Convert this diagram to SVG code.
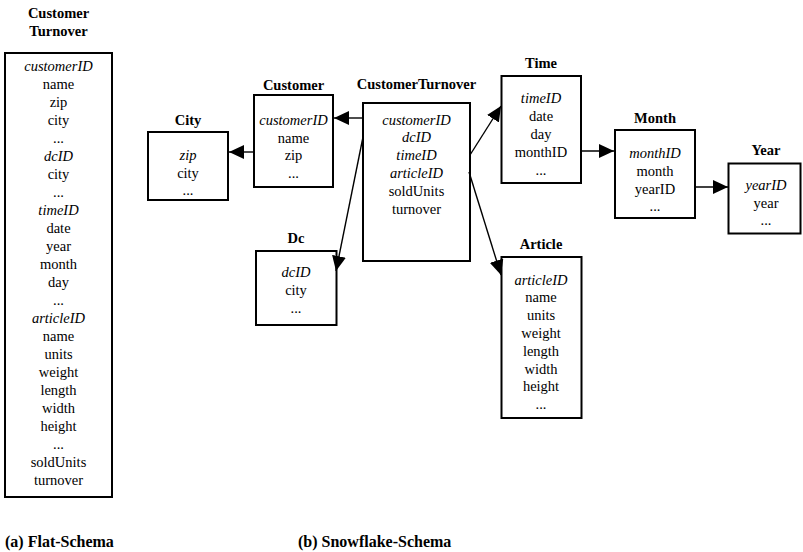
<svg xmlns="http://www.w3.org/2000/svg" width="803" height="552" viewBox="0 0 803 552" font-family="Liberation Serif, DejaVu Serif, serif">
  <style>
    .box { fill: #fff; stroke: #000; stroke-width: 2; }
    .t { font-size: 14.5px; fill: #000; text-anchor: middle; }
    .i { font-style: italic; }
    .h { font-weight: bold; }
    .cap { font-size: 16px; font-weight: bold; fill: #000; }
    .edge { stroke: #000; stroke-width: 1.4; fill: none; marker-end: url(#head); }
  </style>
  <defs>
    <marker id="head" markerUnits="userSpaceOnUse" markerWidth="15" markerHeight="14" refX="15" refY="7" orient="auto">
      <path d="M0,0 L15,7 L0,14 z" fill="#000"/>
    </marker>
  </defs>
  <rect width="803" height="552" fill="#fff"/>

  <!-- flat schema -->
  <g id="flat">
    <text class="t h" x="58.5" y="18">Customer</text>
    <text class="t h" x="58.5" y="36">Turnover</text>
    <rect class="box" x="5" y="53" width="107" height="444"/>
    <text class="t i" x="58.5" y="71">customerID</text>
    <text class="t" x="58.5" y="89">name</text>
    <text class="t" x="58.5" y="107">zip</text>
    <text class="t" x="58.5" y="125">city</text>
    <text class="t" x="58.5" y="143">...</text>
    <text class="t i" x="58.5" y="161">dcID</text>
    <text class="t" x="58.5" y="179">city</text>
    <text class="t" x="58.5" y="197">...</text>
    <text class="t i" x="58.5" y="215">timeID</text>
    <text class="t" x="58.5" y="233">date</text>
    <text class="t" x="58.5" y="251">year</text>
    <text class="t" x="58.5" y="269">month</text>
    <text class="t" x="58.5" y="287">day</text>
    <text class="t" x="58.5" y="305">...</text>
    <text class="t i" x="58.5" y="323">articleID</text>
    <text class="t" x="58.5" y="341">name</text>
    <text class="t" x="58.5" y="359">units</text>
    <text class="t" x="58.5" y="377">weight</text>
    <text class="t" x="58.5" y="395">length</text>
    <text class="t" x="58.5" y="413">width</text>
    <text class="t" x="58.5" y="431">height</text>
    <text class="t" x="58.5" y="449">...</text>
    <text class="t" x="58.5" y="467">soldUnits</text>
    <text class="t" x="58.5" y="485">turnover</text>
  </g>

  <!-- snowflake schema -->
  <g id="city">
    <text class="t h" x="188" y="125">City</text>
    <rect class="box" x="148" y="132" width="80" height="68"/>
    <text class="t i" x="188" y="160">zip</text>
    <text class="t" x="188" y="177.5">city</text>
    <text class="t" x="188" y="195">...</text>
  </g>

  <g id="customer">
    <text class="t h" x="293.5" y="90">Customer</text>
    <rect class="box" x="254" y="95" width="79" height="92"/>
    <text class="t i" x="293.5" y="125">customerID</text>
    <text class="t" x="293.5" y="142.5">name</text>
    <text class="t" x="293.5" y="160">zip</text>
    <text class="t" x="293.5" y="177.5">...</text>
  </g>

  <g id="customerTurnover">
    <text class="t h" x="416.5" y="88.5">CustomerTurnover</text>
    <rect class="box" x="363" y="103" width="107" height="158"/>
    <text class="t i" x="416.5" y="124.5">customerID</text>
    <text class="t i" x="416.5" y="142.3">dcID</text>
    <text class="t i" x="416.5" y="160.1">timeID</text>
    <text class="t i" x="416.5" y="177.9">articleID</text>
    <text class="t" x="416.5" y="195.7">soldUnits</text>
    <text class="t" x="416.5" y="213.5">turnover</text>
  </g>

  <g id="time">
    <text class="t h" x="541" y="68">Time</text>
    <rect class="box" x="501.5" y="76" width="79.5" height="107"/>
    <text class="t i" x="541" y="103">timeID</text>
    <text class="t" x="541" y="121">date</text>
    <text class="t" x="541" y="139">day</text>
    <text class="t" x="541" y="157">monthID</text>
    <text class="t" x="541" y="175">...</text>
  </g>

  <g id="month">
    <text class="t h" x="655" y="122.5">Month</text>
    <rect class="box" x="615" y="130" width="80" height="88"/>
    <text class="t i" x="655" y="158">monthID</text>
    <text class="t" x="655" y="175.8">month</text>
    <text class="t" x="655" y="193.6">yearID</text>
    <text class="t" x="655" y="211.4">...</text>
  </g>

  <g id="year">
    <text class="t h" x="766" y="154.5">Year</text>
    <rect class="box" x="728.5" y="163.5" width="72" height="70"/>
    <text class="t i" x="766" y="189.5">yearID</text>
    <text class="t" x="766" y="207.5">year</text>
    <text class="t" x="766" y="225">...</text>
  </g>

  <g id="dc">
    <text class="t h" x="296" y="242.5">Dc</text>
    <rect class="box" x="256" y="251" width="80.5" height="74"/>
    <text class="t i" x="296" y="277">dcID</text>
    <text class="t" x="296" y="295">city</text>
    <text class="t" x="296" y="312.5">...</text>
  </g>

  <g id="article">
    <text class="t h" x="541" y="248.5">Article</text>
    <rect class="box" x="501.5" y="257" width="80" height="161"/>
    <text class="t i" x="541" y="284.5">articleID</text>
    <text class="t" x="541" y="302.3">name</text>
    <text class="t" x="541" y="320.1">units</text>
    <text class="t" x="541" y="337.9">weight</text>
    <text class="t" x="541" y="355.7">length</text>
    <text class="t" x="541" y="373.5">width</text>
    <text class="t" x="541" y="391.3">height</text>
    <text class="t" x="541" y="409">...</text>
  </g>

  <!-- foreign key references -->
  <g id="connectors">
    <line class="edge" x1="363" y1="118" x2="334" y2="118"/>
    <line class="edge" x1="254" y1="152" x2="229" y2="152"/>
    <line class="edge" x1="363" y1="137" x2="336" y2="271"/>
    <line class="edge" x1="470" y1="155" x2="501" y2="106"/>
    <line class="edge" x1="469" y1="172" x2="501" y2="275"/>
    <line class="edge" x1="581" y1="151" x2="614" y2="151"/>
    <line class="edge" x1="695" y1="187" x2="728" y2="187"/>
  </g>

  <text class="cap" x="5" y="547">(a) Flat-Schema</text>
  <text class="cap" x="298" y="547">(b) Snowflake-Schema</text>
</svg>
